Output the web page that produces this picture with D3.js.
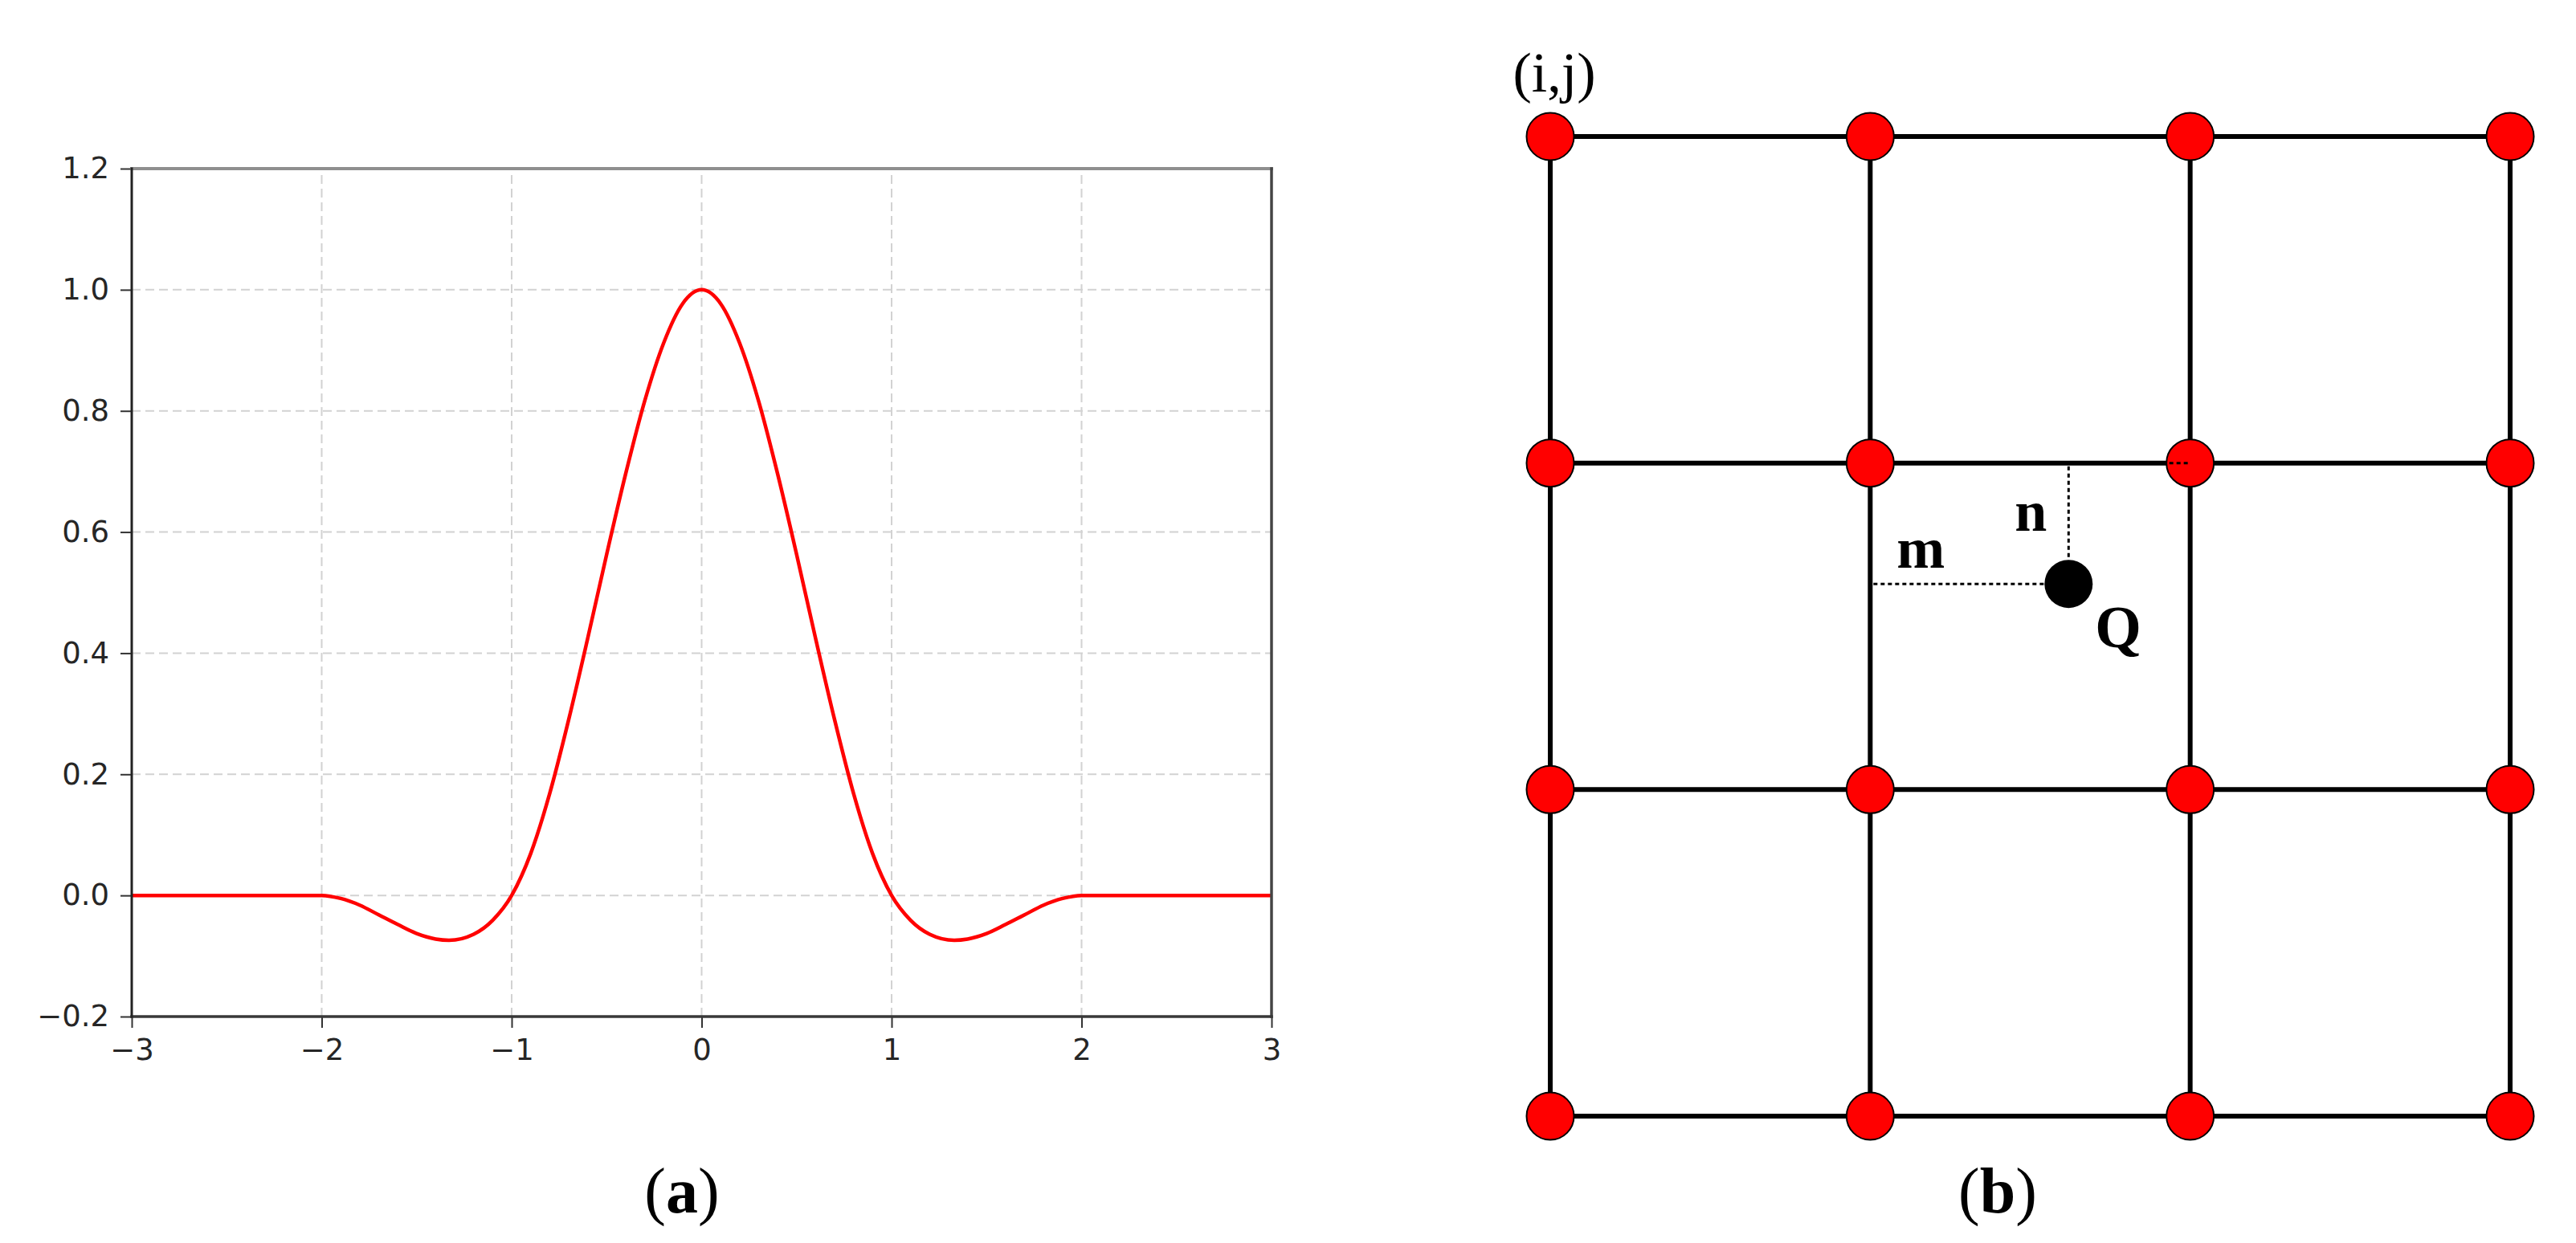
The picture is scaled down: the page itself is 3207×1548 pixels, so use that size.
<!DOCTYPE html>
<html>
<head>
<meta charset="utf-8">
<script src="https://cdn.jsdelivr.net/npm/d3@7"></script>
<style>
    body { margin: 0; background: #fff; }
    svg { display: block; }
    .tick text { font-family: "DejaVu Sans", sans-serif; font-size: 37px; fill: #262626; }
    .tick line { stroke: #333; stroke-width: 2; }
    .grid-line { stroke: #d2d2d2; stroke-width: 2; stroke-dasharray: 11 6; }
    .kernel-line { fill: none; stroke: #ff0000; stroke-width: 4.5; }
    .mesh-line { stroke: #000; stroke-width: 6; }
    .node { fill: #ff0000; stroke: #000; stroke-width: 2; }
    .dotted { stroke: #000; stroke-width: 3; stroke-dasharray: 5 4; }
    .serif { font-family: "Liberation Serif", "Times New Roman", serif; fill: #000; }
</style>
</head>
<body>
<div id="figure"></div>
<script>
// ticks of panel (a)
const xTicks = [-3, -2, -1, 0, 1, 2, 3];
const yTicks = [-0.2, 0.0, 0.2, 0.4, 0.6, 0.8, 1.0, 1.2];

// kernel curve
const curveX = [-3, -2.0, -1.9, -1.8, -1.7, -1.6, -1.5, -1.4, -1.33, -1.2, -1.1,
                -1.0, -0.9, -0.8, -0.7, -0.6, -0.5, -0.4, -0.3, -0.2, -0.1, 0.0,
                0.1, 0.2, 0.3, 0.4, 0.5, 0.6, 0.7, 0.8, 0.9, 1.0,
                1.1, 1.2, 1.33, 1.4, 1.5, 1.6, 1.7, 1.8, 1.9, 2.0, 3];
const curveY = [0, 0, -0.005, -0.016, -0.032, -0.048, -0.063, -0.072, -0.074, -0.064, -0.041,
                0, 0.069, 0.168, 0.290, 0.424, 0.563, 0.696, 0.816, 0.912, 0.977, 1.0,
                0.977, 0.912, 0.816, 0.696, 0.563, 0.424, 0.290, 0.168, 0.069, 0,
                -0.041, -0.064, -0.074, -0.072, -0.063, -0.048, -0.032, -0.016, -0.005, 0, 0];

// panel (b): 4x4 mesh nodes and the sample point Q (in mesh units)
const meshIdx = [0, 1, 2, 3];
const pointQ = [1.62, 1.37];
const panelLabels = ["a", "b"];

const W = 3207, H = 1548;

const svg = d3.select("#figure").append("svg")
    .attr("width", W)
    .attr("height", H);

svg.append("rect").attr("width", W).attr("height", H).attr("fill", "#fff");

class KernelChart {
    constructor(opts) {
        this.svg = opts.svg;
        this.box = opts.box;
        this.draw();
    }

    draw() {
        this.createScales();
        this.addGrid();
        this.addAxes();
        this.addLine();
        this.addSpines();
    }

    createScales() {
        const b = this.box;
        this.xScale = d3.scaleLinear().domain([-3, 3]).range([b.left, b.right]);
        this.yScale = d3.scaleLinear().domain([-0.2, 1.2]).range([b.bottom, b.top]);
    }

    addGrid() {
        const g = this.svg.append("g");
        g.selectAll("line.gx")
            .data(xTicks)
            .enter().append("line")
            .attr("class", "grid-line")
            .attr("x1", d => this.xScale(d)).attr("x2", d => this.xScale(d))
            .attr("y1", this.yScale(-0.2)).attr("y2", this.yScale(1.2));
        g.selectAll("line.gy")
            .data(yTicks)
            .enter().append("line")
            .attr("class", "grid-line")
            .attr("x1", this.xScale(-3)).attr("x2", this.xScale(3))
            .attr("y1", d => this.yScale(d)).attr("y2", d => this.yScale(d));
    }

    addAxes() {
        const xAxis = d3.axisBottom(this.xScale)
            .tickValues(xTicks)
            .tickFormat(d3.format("d"))
            .tickSize(14).tickPadding(14).tickSizeOuter(0);
        const yAxis = d3.axisLeft(this.yScale)
            .tickValues(yTicks)
            .tickFormat(d3.format(".1f"))
            .tickSize(14).tickPadding(14).tickSizeOuter(0);

        const gx = this.svg.append("g")
            .attr("transform", `translate(0,${this.box.bottom})`)
            .call(xAxis);
        const gy = this.svg.append("g")
            .attr("transform", `translate(${this.box.left},0)`)
            .call(yAxis);
        // spines are drawn by hand below
        gx.select(".domain").remove();
        gy.select(".domain").remove();
        gx.attr("font-size", null).attr("font-family", null);
        gy.attr("font-size", null).attr("font-family", null);
    }

    addLine() {
        const pts = curveX.map((x, i) => ({x: x, y: curveY[i]}));
        const line = d3.line()
            .x(d => this.xScale(d.x))
            .y(d => this.yScale(d.y))
            .curve(d3.curveMonotoneX);
        this.svg.append("path")
            .datum(pts)
            .attr("class", "kernel-line")
            .attr("d", line);
    }

    addSpines() {
        const x0 = this.xScale(-3), x1 = this.xScale(3);
        const y0 = this.yScale(-0.2), y1 = this.yScale(1.2);
        const g = this.svg.append("g").attr("stroke-linecap", "square");
        g.append("line").attr("x1", x0).attr("x2", x1).attr("y1", y1).attr("y2", y1)
            .attr("stroke", "#8f8f8f").attr("stroke-width", 4);
        g.append("line").attr("x1", x1).attr("x2", x1).attr("y1", y1).attr("y2", y0)
            .attr("stroke", "#444").attr("stroke-width", 3.5);
        g.append("line").attr("x1", x0).attr("x2", x1).attr("y1", y0).attr("y2", y0)
            .attr("stroke", "#383838").attr("stroke-width", 3.5);
        g.append("line").attr("x1", x0).attr("x2", x0).attr("y1", y1).attr("y2", y0)
            .attr("stroke", "#222").attr("stroke-width", 3);
    }
}

class MeshDiagram {
    constructor(opts) {
        this.svg = opts.svg;
        this.box = opts.box;
        this.draw();
    }

    draw() {
        this.xScale = d3.scaleLinear().domain([0, 3]).range([this.box.left, this.box.right]);
        this.yScale = d3.scaleLinear().domain([0, 3]).range([this.box.top, this.box.bottom]);
        this.addMesh();
        this.addPoint();
        this.addNodes();
        this.addLabels();
    }

    addMesh() {
        const g = this.svg.append("g");
        g.selectAll("line.row")
            .data(meshIdx)
            .enter().append("line")
            .attr("class", "mesh-line")
            .attr("x1", this.xScale(0)).attr("x2", this.xScale(3))
            .attr("y1", d => this.yScale(d)).attr("y2", d => this.yScale(d));
        g.selectAll("line.col")
            .data(meshIdx)
            .enter().append("line")
            .attr("class", "mesh-line")
            .attr("x1", d => this.xScale(d)).attr("x2", d => this.xScale(d))
            .attr("y1", this.yScale(0)).attr("y2", this.yScale(3));
    }

    addPoint() {
        const qx = this.xScale(pointQ[0]), qy = this.yScale(pointQ[1]);
        const top = this.yScale(Math.floor(pointQ[1]));
        const left = this.xScale(Math.floor(pointQ[0]));
        const r = 30;

        // m and n distances
        this.svg.append("line").attr("class", "dotted")
            .attr("x1", left + 4).attr("x2", qx - r)
            .attr("y1", qy).attr("y2", qy);
        this.svg.append("line").attr("class", "dotted")
            .attr("x1", qx).attr("x2", qx)
            .attr("y1", top + 4).attr("y2", qy - r);

        this.svg.append("circle")
            .attr("cx", qx).attr("cy", qy).attr("r", r)
            .attr("fill", "#000");
        this.q = [qx, qy];
    }

    addNodes() {
        const nodes = [];
        meshIdx.forEach(j => meshIdx.forEach(i => nodes.push({i: i, j: j})));
        this.svg.selectAll("circle.node")
            .data(nodes)
            .enter().append("circle")
            .attr("class", "node")
            .attr("cx", d => this.xScale(d.i))
            .attr("cy", d => this.yScale(d.j))
            .attr("r", 29.5);

        // small dotted stub over the node right of n
        const sy = this.yScale(Math.floor(pointQ[1]));
        const sx = this.xScale(Math.ceil(pointQ[0]));
        this.svg.append("line").attr("class", "dotted")
            .attr("x1", sx - 26).attr("x2", sx - 2)
            .attr("y1", sy).attr("y2", sy);
    }

    addLabels() {
        const [qx, qy] = this.q;
        this.svg.append("text").attr("class", "serif")
            .attr("x", this.xScale(0) + 5).attr("y", this.yScale(0) - 56)
            .attr("text-anchor", "middle")
            .attr("font-size", 70)
            .text("(i,j)");
        this.svg.append("text").attr("class", "serif")
            .attr("x", this.xScale(Math.floor(pointQ[0])) + 33).attr("y", qy - 20)
            .attr("font-size", 72).attr("font-weight", "bold")
            .text("m");
        this.svg.append("text").attr("class", "serif")
            .attr("x", qx - 67).attr("y", qy - 66)
            .attr("font-size", 72).attr("font-weight", "bold")
            .text("n");
        this.svg.append("text").attr("class", "serif")
            .attr("x", qx + 33).attr("y", qy + 79)
            .attr("font-size", 74).attr("font-weight", "bold")
            .text("Q");
    }
}

new KernelChart({svg: svg, box: {left: 164, right: 1583, top: 210, bottom: 1266}});
new MeshDiagram({svg: svg, box: {left: 1930, right: 3125, top: 170, bottom: 1390}});

// panel captions
const captionX = [849, 2487];
svg.selectAll("text.caption")
    .data(panelLabels)
    .enter().append("text")
    .attr("class", "caption serif")
    .attr("x", (d, i) => captionX[i])
    .attr("y", 1510)
    .attr("text-anchor", "middle")
    .attr("font-size", 80)
    .each(function(d) {
        const t = d3.select(this);
        t.append("tspan").text("(");
        t.append("tspan").attr("font-weight", "bold").text(d);
        t.append("tspan").text(")");
    });
</script>
</body>
</html>
